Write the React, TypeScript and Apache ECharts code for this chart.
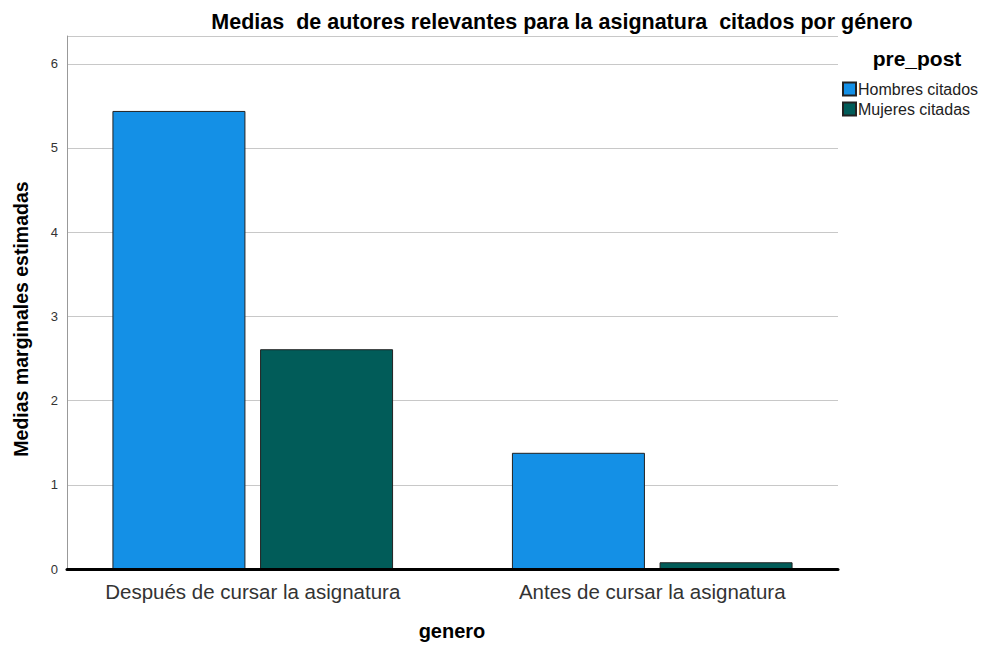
import React, { useEffect, useRef } from "react";
import * as echarts from "echarts";

const categories = ["Después de cursar la asignatura", "Antes de cursar la asignatura"];
const seriesNames = ["Hombres citados", "Mujeres citadas"];
const hombres = [5.44, 1.38];
const mujeres = [2.61, 0.08];
const yTicks = [0, 1, 2, 3, 4, 5, 6];

const FONT = "Liberation Sans, Arial, sans-serif";

export default function App() {
  const ref = useRef<HTMLDivElement>(null);
  useEffect(() => {
    if (!ref.current) return;
    const chart = echarts.init(ref.current, null, { renderer: "svg" });
    const yMax = 6.33;
    chart.setOption({
      animation: false,
      backgroundColor: "#ffffff",
      textStyle: { fontFamily: FONT },
      graphic: [
        {
          type: "text",
          x: 562,
          y: 11,
          style: {
            text: "Medias  de autores relevantes para la asignatura  citados por género",
            font: "bold 21.5px " + FONT,
            fill: "#000",
            textAlign: "center",
          },
        },
        {
          type: "text",
          x: 917,
          y: 48,
          style: { text: "pre_post", font: "bold 21px " + FONT, fill: "#000", textAlign: "center" },
        },
        {
          type: "text",
          x: 452,
          y: 621,
          style: { text: "genero", font: "bold 20px " + FONT, fill: "#000", textAlign: "center" },
        },
        {
          type: "text",
          x: 21,
          y: 319,
          rotation: Math.PI / 2,
          style: {
            text: "Medias marginales estimadas",
            font: "bold 19.5px " + FONT,
            fill: "#000",
            textAlign: "center",
            textVerticalAlign: "middle",
          },
        },
      ],
      legend: {
        orient: "vertical",
        left: 837,
        top: 76,
        itemWidth: 13,
        itemHeight: 13,
        itemGap: 4,
        icon: "rect",
        data: seriesNames,
        textStyle: { fontSize: 16, color: "#222", fontFamily: FONT, padding: [0, 0, 0, -3] },
        selectedMode: false,
      },
      grid: [
        { left: 67, right: 156, top: 36, bottom: 79 },
        { left: 53, right: 142, top: 36, bottom: 79 },
      ],
      xAxis: [
        {
          type: "category",
          gridIndex: 0,
          data: categories,
          axisLine: { show: true, lineStyle: { color: "#000", width: 3 } },
          axisTick: { show: false },
          axisLabel: { show: false },
          z: 10,
        },
        {
          type: "category",
          gridIndex: 1,
          data: categories,
          axisLine: { show: false },
          axisTick: { show: false },
          axisLabel: { fontSize: 20.5, color: "#333", margin: 12, fontFamily: FONT },
        },
      ],
      yAxis: [
        {
          type: "value",
          gridIndex: 0,
          min: 0,
          max: yMax,
          interval: 1,
          axisLine: { show: true, lineStyle: { color: "#999", width: 1 } },
          axisTick: { show: false },
          axisLabel: {
            fontSize: 13,
            color: "#333",
            margin: 9,
            fontFamily: FONT,
            formatter: (v: number) => (yTicks.indexOf(v) >= 0 ? String(v) : ""),
          },
          splitLine: { show: true, lineStyle: { color: "#c8c8c8", width: 1 } },
        },
        {
          type: "value",
          gridIndex: 1,
          min: 0,
          max: yMax,
          show: false,
          splitLine: { show: false },
        },
      ],
      series: [
        {
          name: seriesNames[0],
          type: "bar",
          xAxisIndex: 1,
          yAxisIndex: 1,
          data: hombres,
          barWidth: 133,
          barGap: "11%",
          itemStyle: { color: "#1490e6", borderColor: "#222", borderWidth: 1 },
        },
        {
          name: seriesNames[1],
          type: "bar",
          xAxisIndex: 1,
          yAxisIndex: 1,
          data: mujeres,
          barWidth: 133,
          barGap: "11%",
          itemStyle: { color: "#015c59", borderColor: "#222", borderWidth: 1 },
        },
      ],
    });
    return () => chart.dispose();
  }, []);
  return <div ref={ref} style={{ width: 994, height: 648, position: "absolute", left: 0, top: 0 }} />;
}
